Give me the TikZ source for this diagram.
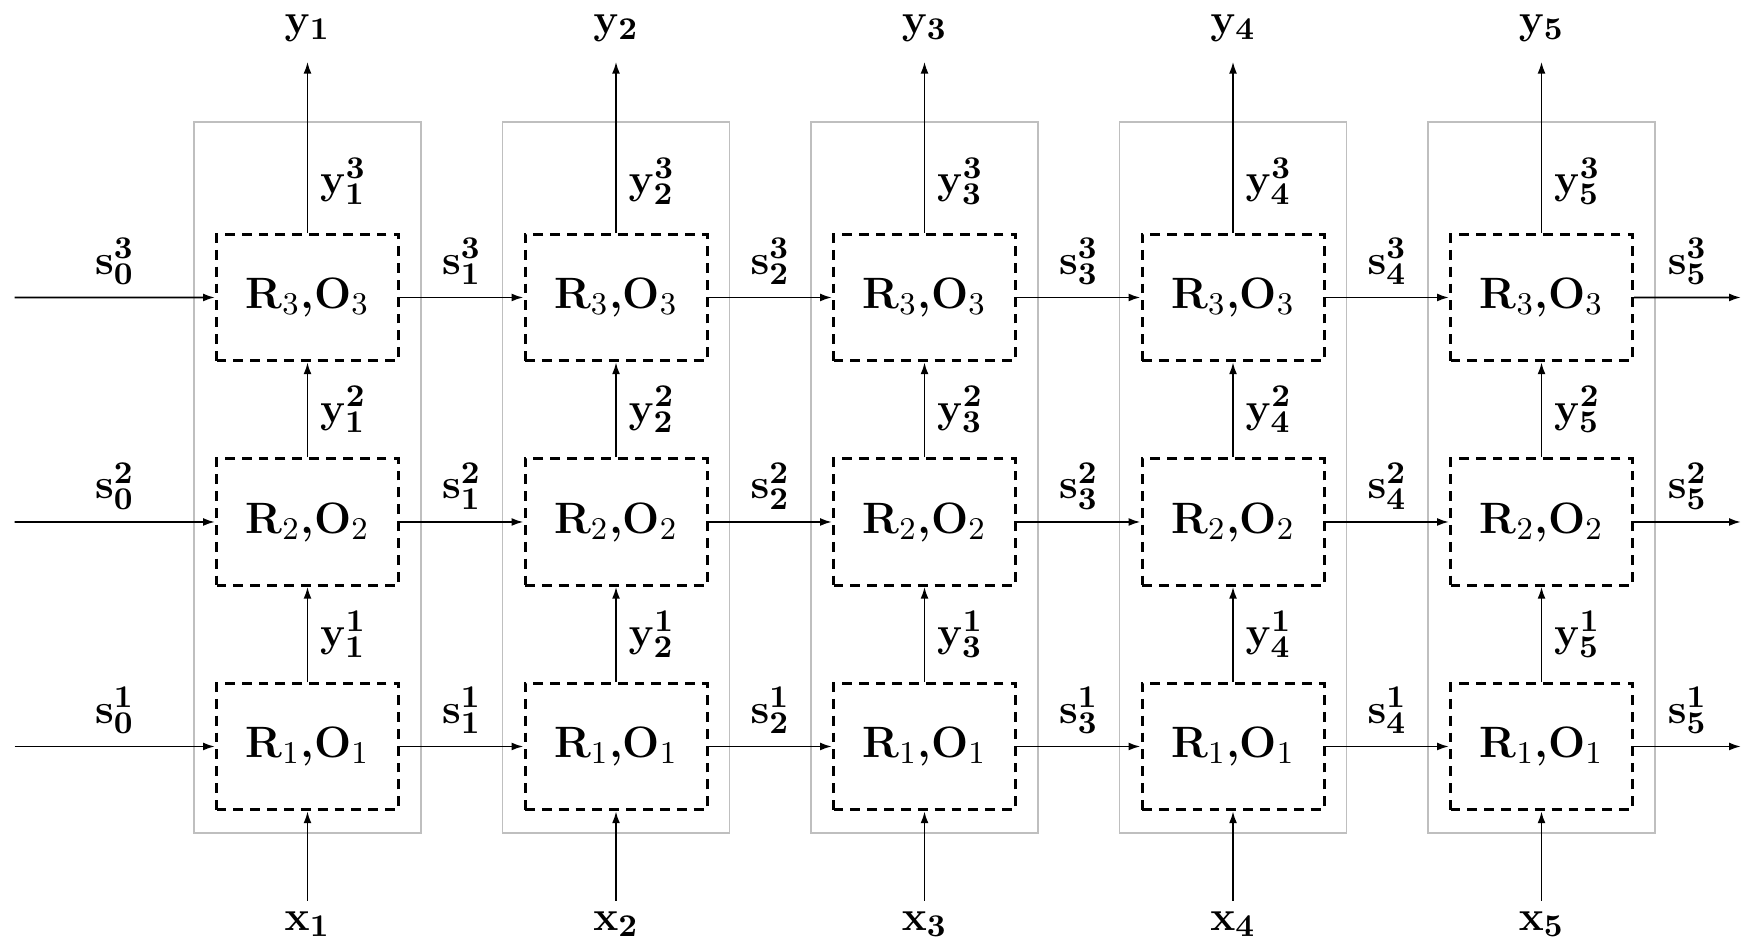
\documentclass[tikz,border=0pt]{standalone}
\usetikzlibrary{arrows.meta}
\begin{document}
\begin{tikzpicture}[>={Latex[length=1.2mm,width=0.8mm]}, line width=0.55pt,
    font=\fontsize{12.5}{15}\selectfont,
    column/.style={draw=black!25, minimum width=2.27cm, minimum height=7.113cm},
    layer/.style={draw, line width=0.85pt, dash pattern=on 2.8pt off 2pt, minimum width=1.82cm, minimum height=1.265cm, node distance=2.245cm}]
    \useasboundingbox (0,0) rectangle (17.41,9.42);
    \coordinate (in1) at (0.145,1.955);
    \coordinate (in2) at (0.145,4.2);
    \coordinate (in3) at (0.145,6.445);
    \coordinate (out1) at (17.41,1.955);
    \coordinate (out2) at (17.41,4.2);
    \coordinate (out3) at (17.41,6.445);

    \foreach \c [evaluate=\c as \x using 3.075+3.085*(\c-1)] in {1,...,5} {
        \node (col\c) [column] at (\x,4.646) {};
        \node (r1c\c) [layer] at (\x,1.955) {\textbf{R}$_1$\textbf{,O}$_1$};
        \node (r2c\c) [layer, above of=r1c\c] {\textbf{R}$_2$\textbf{,O}$_2$};
        \node (r3c\c) [layer, above of=r2c\c] {\textbf{R}$_3$\textbf{,O}$_3$};
        \node (x\c) [anchor=north, inner ysep=0.1cm] at (\x,0.413) {$\mathbf{x_{\c}}$};
        \node (y\c) [anchor=south, inner ysep=0.19cm] at (\x,8.803) {$\mathbf{y_{\c}}$};

        \draw[->] (x\c) -- (r1c\c);
        \draw[->] (r1c\c) -- node[right] {$\mathbf{y^1_{\c}}$} (r2c\c);
        \draw[->] (r2c\c) -- node[right] {$\mathbf{y^2_{\c}}$} (r3c\c);
        \draw[->] (r3c\c) -- node[right, pos=0.3] {$\mathbf{y^3_{\c}}$} (y\c);
    }

    \foreach \r in {1,2,3} {
        \draw[->] (in\r) -- node[above] {$\mathbf{s^{\r}_0}$} (r\r c1);
        \foreach \c [evaluate=\c as \n using int(\c+1)] in {1,...,4}
            \draw[->] (r\r c\c) -- node[above] {$\mathbf{s^{\r}_{\c}}$} (r\r c\n);
        \draw[->] (r\r c5) -- node[above] {$\mathbf{s^{\r}_5}$} (out\r);
    }
\end{tikzpicture}
\end{document}
